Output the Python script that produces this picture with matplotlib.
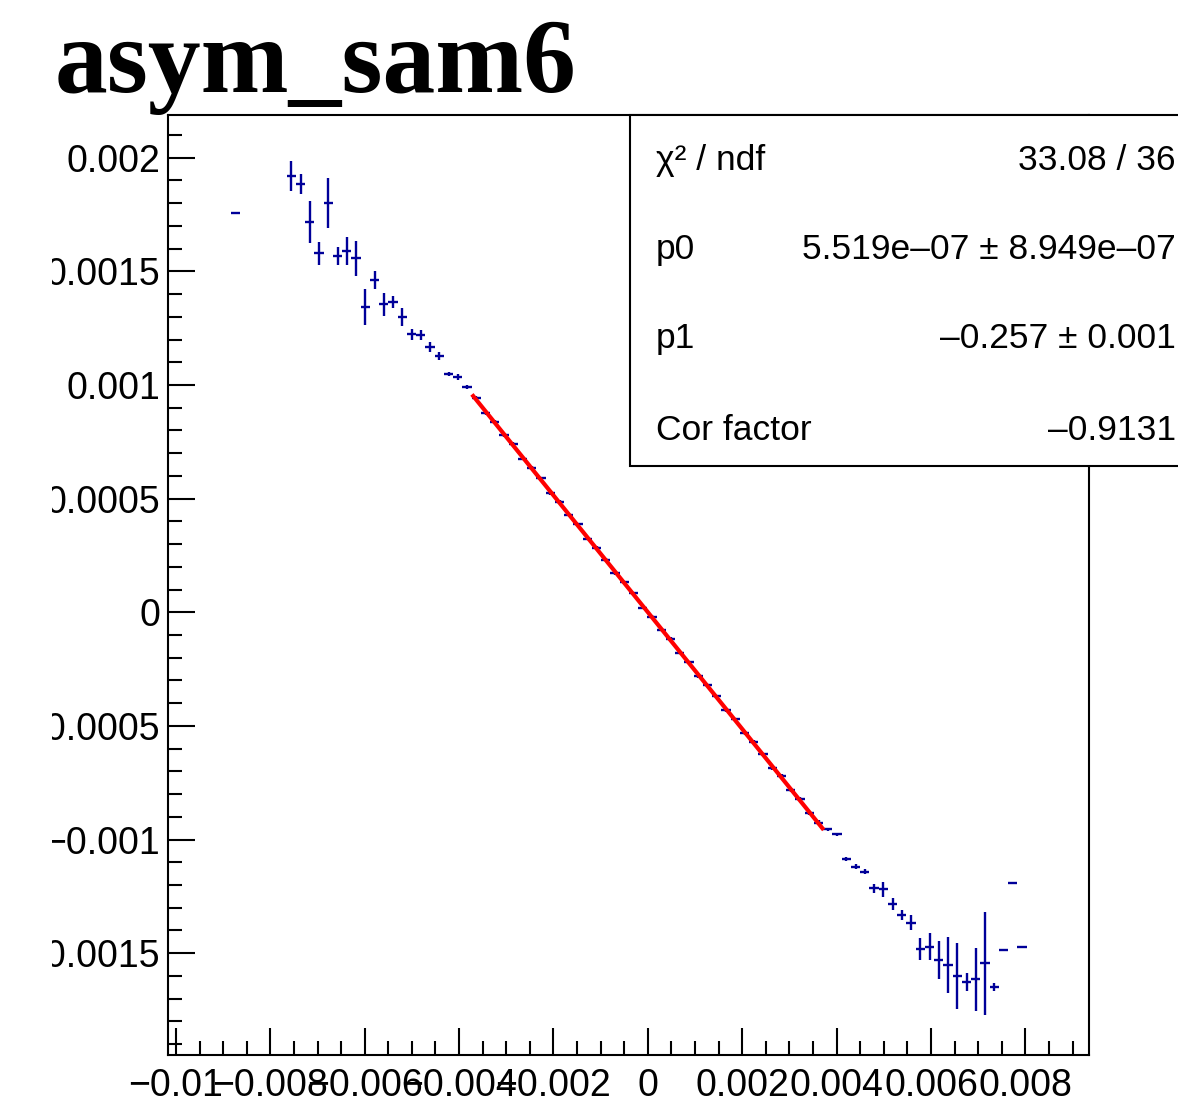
import matplotlib
matplotlib.use("Agg")
import matplotlib.pyplot as plt
from matplotlib.patches import Rectangle
from matplotlib.ticker import MultipleLocator
import numpy as np

plt.rcParams['font.family'] = ['Liberation Sans', 'DejaVu Sans']

title = "asym_sam6"

# profile: bin centres, mean values, errors on the mean
x = [-0.008730,
     -0.007554, -0.007358, -0.007162, -0.006966, -0.006770, -0.006574, -0.006378,
     -0.006182, -0.005986, -0.005790, -0.005594, -0.005398, -0.005202, -0.005006,
     -0.004810, -0.004614, -0.004418, -0.004222, -0.004026, -0.003830,
     -0.003634, -0.003438, -0.003242, -0.003046, -0.002850, -0.002654, -0.002458,
     -0.002262, -0.002066, -0.001870, -0.001674, -0.001478, -0.001282, -0.001086,
     -0.000890, -0.000694, -0.000498, -0.000302, -0.000106, 0.000090, 0.000286,
     0.000482, 0.000678, 0.000874, 0.001070, 0.001266, 0.001462, 0.001658,
     0.001854, 0.002050, 0.002246, 0.002442, 0.002638, 0.002834, 0.003030,
     0.003226, 0.003422, 0.003618,
     0.003814, 0.004010, 0.004206, 0.004402, 0.004598, 0.004794, 0.004990,
     0.005186, 0.005382, 0.005578, 0.005774, 0.005970, 0.006166, 0.006362,
     0.006558, 0.006754, 0.006950, 0.007146, 0.007342, 0.007538, 0.007734, 0.007930]

y = [0.001755,
     0.001919, 0.001884, 0.001718, 0.001579, 0.001802, 0.001568, 0.001590,
     0.001557, 0.001344, 0.001462, 0.001355, 0.001364, 0.001298, 0.001223,
     0.001220, 0.001168, 0.001129, 0.001048, 0.001037, 0.000990,
     0.000941, 0.000876, 0.000839, 0.000779, 0.000741, 0.000676, 0.000637,
     0.000589, 0.000524, 0.000486, 0.000428, 0.000388, 0.000323, 0.000284,
     0.000232, 0.000171, 0.000133, 0.000084, 0.000021, -0.000019, -0.000078,
     -0.000116, -0.000177, -0.000219, -0.000281, -0.000321, -0.000369, -0.000432,
     -0.000471, -0.000533, -0.000570, -0.000624, -0.000684, -0.000721, -0.000783,
     -0.000822, -0.000884, -0.000925,
     -0.000955, -0.000977, -0.001087, -0.001119, -0.001141, -0.001214, -0.001219,
     -0.001283, -0.001332, -0.001366, -0.001483, -0.001471, -0.001530, -0.001552,
     -0.001600, -0.001625, -0.001615, -0.001544, -0.001650, -0.001486, -0.001192, -0.001471]

ey = [0.0,
      0.0000675, 0.0000455, 0.0000925, 0.0000515, 0.000110, 0.000041, 0.0000615,
      0.000077, 0.0000805, 0.000040, 0.0000515, 0.000027, 0.000040, 0.0000255,
      0.000022, 0.000022, 0.000018, 0.000009, 0.000013, 0.000009,
      0.000009, 0.000009, 0.000008, 0.000008, 0.000008, 0.000007, 0.000007,
      0.000007, 0.000007, 0.000006, 0.000006, 0.000006, 0.000006, 0.000006,
      0.000006, 0.000006, 0.000006, 0.000006, 0.000006, 0.000006, 0.000006,
      0.000006, 0.000006, 0.000006, 0.000006, 0.000006, 0.000006, 0.000006,
      0.000007, 0.000007, 0.000007, 0.000007, 0.000008, 0.000008, 0.000008,
      0.000009, 0.000009, 0.000009,
      0.000007, 0.000007, 0.000009, 0.000010, 0.000012, 0.000020, 0.000033,
      0.000026, 0.000023, 0.000033, 0.000048, 0.000059, 0.000082, 0.000123,
      0.000147, 0.000040, 0.000139, 0.000227, 0.000018, 0.0, 0.0, 0.0]

half_bin = 0.000098

# pol1 fit
p0 = 5.519e-07
p1 = -0.257
fit_range = [-0.0037, 0.0037]

stats_names = ["χ² / ndf", "p0", "p1", "Cor factor"]
stats_values = ["33.08 / 36", "5.519e–07 ± 8.949e–07", "–0.257 ± 0.001", "–0.9131"]

xticks = [-0.01, -0.008, -0.006, -0.004, -0.002, 0.0, 0.002, 0.004, 0.006, 0.008]
xticklabels = ["−0.01", "−0.008", "−0.006", "−0.004", "−0.002", "0",
               "0.002", "0.004", "0.006", "0.008"]
yticks = [-0.0015, -0.001, -0.0005, 0.0, 0.0005, 0.001, 0.0015, 0.002]
yticklabels = ["−0.0015", "−0.001", "−0.0005", "0", "0.0005", "0.001", "0.0015", "0.002"]

W, H = 1178, 1112
fig = plt.figure(figsize=(W / 100, H / 100), dpi=100)
ax = fig.add_axes([168.3 / W, 1 - 1055 / H, (1089.3 - 168.3) / W, (1055 - 115) / H])

ax.errorbar(x, y, xerr=half_bin, yerr=ey, fmt='none', ecolor='#000099',
            elinewidth=1.7, capsize=0, zorder=2)
xf = np.array(fit_range)
ax.plot(xf, p0 + p1 * xf, color='red', lw=3.0, zorder=3)

ax.set_xlim(-0.010162, 0.009356)
ax.set_ylim(-0.001948, 0.002188)

ax.set_xticks(xticks)
ax.set_xticklabels(xticklabels)
ax.set_yticks(yticks)
ax.set_yticklabels(yticklabels)
ax.xaxis.set_minor_locator(MultipleLocator(0.0005))
ax.yaxis.set_minor_locator(MultipleLocator(0.0001))
ax.tick_params(which='both', direction='in', top=False, right=False, width=1.5,
               labelsize=27)
ax.tick_params(which='major', length=19.5)
ax.tick_params(which='minor', length=10)
ax.tick_params(axis='x', pad=9)
ax.tick_params(axis='y', pad=6)
for s in ax.spines.values():
    s.set_linewidth(1.5)

# the canvas cuts the left edge of the labels
fig.add_artist(Rectangle((0, 0), 52 / W, 1, transform=fig.transFigure,
                         facecolor='white', edgecolor='none', zorder=5))

fig.text(55 / W, 1 - 92 / H, title, ha='left', va='baseline', fontsize=76,
         fontweight='bold', family='Liberation Serif')

# stats box
fig.add_artist(Rectangle((630 / W, 1 - 466 / H), 700 / W, (466 - 115) / H,
                         transform=fig.transFigure, facecolor='white',
                         edgecolor='black', lw=1.5, zorder=6))
baselines = [170, 259, 348, 440]
for name, val, b in zip(stats_names, stats_values, baselines):
    fig.text(656 / W, 1 - b / H, name, ha='left', va='baseline', fontsize=25.5, zorder=7)
    fig.text(1176 / W, 1 - b / H, val, ha='right', va='baseline', fontsize=25.5, zorder=7)

fig.savefig("out.png", dpi=100)
